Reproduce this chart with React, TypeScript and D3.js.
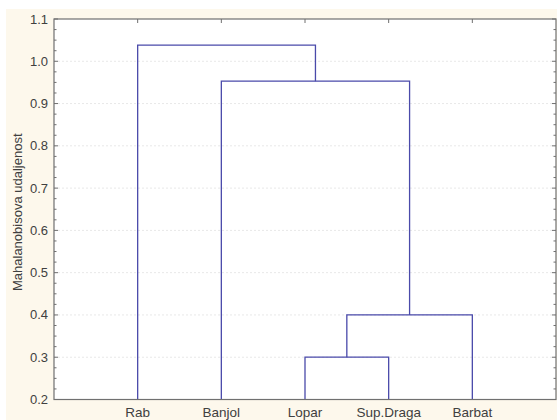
import React from "react";
import * as d3 from "d3";

const leaves = ["Rab", "Banjol", "Lopar", "Sup.Draga", "Barbat"];
// merges: [left cluster, right cluster, height]
const mergeLeft = ["Lopar", "C1", "Banjol", "Rab"];
const mergeRight = ["Sup.Draga", "Barbat", "C2", "C3"];
const mergeHeights = [0.3, 0.4, 0.953, 1.038];
const mergeNames = ["C1", "C2", "C3", "C4"];
const yTicks = [0.2, 0.3, 0.4, 0.5, 0.6, 0.7, 0.8, 0.9, 1.0, 1.1];

const W = 557, H = 420;
const left = 54, right = 556, top = 19, bottom = 399.5;

export default function App() {
  const x = d3.scaleLinear().domain([0, leaves.length + 1]).range([left, right]);
  const y = d3.scaleLinear().domain([0.2, 1.1]).range([bottom, top]);
  const pos: Record<string, { x: number; h: number }> = {};
  leaves.forEach((l, i) => (pos[l] = { x: x(i + 1), h: 0.2 }));
  const segs: string[] = [];
  mergeNames.forEach((n, i) => {
    const a = pos[mergeLeft[i]], b = pos[mergeRight[i]];
    const h = mergeHeights[i];
    segs.push(`M${a.x},${y(a.h)}V${y(h)}H${b.x}V${y(b.h)}`);
    pos[n] = { x: (a.x + b.x) / 2, h };
  });
  const minor = d3.range(0.2, 1.1001, 0.025);
  const axisCol = "#707070";
  const txt = "#404040";
  return (
    <svg width={W} height={H} style={{ position: "absolute", left: 0, top: 0 }}
      fontFamily="Liberation Sans, Arial, sans-serif">
      <rect x={0} y={0} width={W} height={H} fill="#fff" />
      <rect x={6} y={9} width={W - 6} height={H - 9} fill="#fdf8ec" />
      <rect x={left} y={top} width={right - left} height={bottom - top} fill="#fff" />
      {yTicks.slice(1, -1).map((t) => (
        <line key={"g" + t} x1={left} x2={right} y1={y(t)} y2={y(t)} stroke="#e8e8e8" strokeWidth={1} strokeDasharray="2,2" />
      ))}
      {minor.map((t, i) => {
        const major = i % 4 === 0;
        const len = major ? 4 : 2.5;
        return (
          <g key={"m" + i}>
            <line x1={left} x2={left + len} y1={y(t)} y2={y(t)} stroke={axisCol} />
            <line x1={right} x2={right - len} y1={y(t)} y2={y(t)} stroke={axisCol} />
          </g>
        );
      })}
      {leaves.map((l, i) => (
        <line key={"t" + l} x1={x(i + 1)} x2={x(i + 1)} y1={top} y2={top + 4} stroke={axisCol} />
      ))}
      {segs.map((d, i) => (
        <path key={"s" + i} d={d} fill="none" stroke="#4a4aaa" strokeWidth={1.3} />
      ))}
      <rect x={left} y={top} width={right - left} height={bottom - top} fill="none" stroke={axisCol} strokeWidth={1.2} />
      {yTicks.map((t) => (
        <text key={"l" + t} x={48} y={y(t)} dy="0.35em" textAnchor="end" fontSize={13} fill={txt}>
          {t.toFixed(1)}
        </text>
      ))}
      {leaves.map((l, i) => (
        <text key={"x" + l} x={x(i + 1)} y={417} textAnchor="middle" fontSize={13.5} fill={txt}>
          {l}
        </text>
      ))}
      <text transform={`translate(22,${(top + bottom) / 2 + 3}) rotate(-90)`} textAnchor="middle" fontSize={13} fill={txt}>
        Mahalanobisova udaljenost
      </text>
    </svg>
  );
}
